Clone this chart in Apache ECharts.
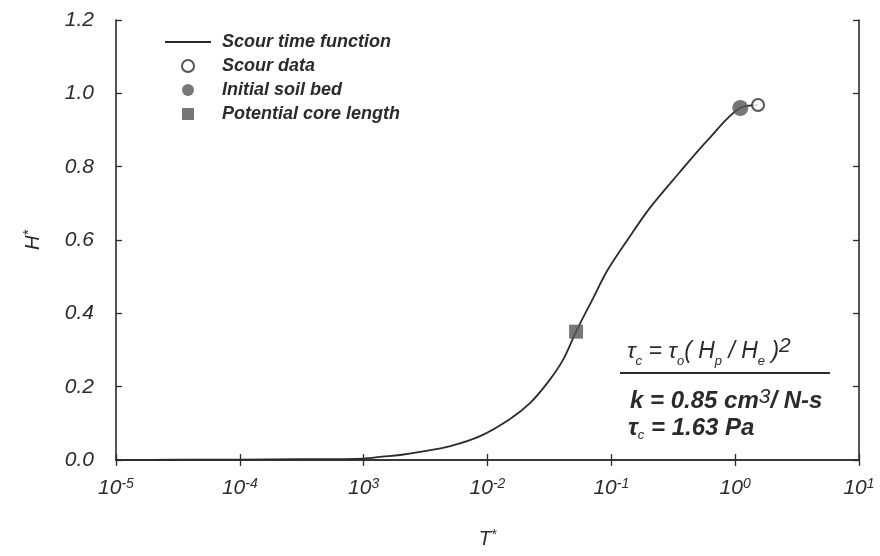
<!DOCTYPE html>
<html>
<head>
<meta charset="utf-8">
<script src="https://cdn.jsdelivr.net/npm/echarts@6/dist/echarts.min.js"></script>
<style>
  html, body { margin: 0; padding: 0; background: #ffffff; }
  #chart { width: 880px; height: 556px; }
</style>
</head>
<body>
<div id="chart"></div>
<script>
// Scour time function: log10(T*) and H* pairs
const curveLogT = [-5.0, -4.5, -4.0, -3.5, -3.0, -2.85, -2.706, -2.545, -2.30, -2.06, -1.818, -1.657, -1.51, -1.39, -1.285, -1.155, -1.03, -0.87, -0.69, -0.46, -0.22, 0.04, 0.185];
const curveH    = [0.0005, 0.0007, 0.0011, 0.002, 0.004, 0.009, 0.0136, 0.022, 0.038, 0.065, 0.112, 0.155, 0.213, 0.273, 0.35, 0.436, 0.518, 0.60, 0.687, 0.78, 0.873, 0.96, 0.968];

// Individual markers (T*, H*)
const scourDataT = [1.53];
const scourDataH = [0.968];
const initialBedT = [1.10];
const initialBedH = [0.960];
const coreLengthT = [0.0519];
const coreLengthH = [0.350];

// Axis tick labels
const xTickLabels = ['10{s|-5}', '10{s|-4}', '10{s|3}', '10{s|-2}', '10{s|-1}', '10{s|0}', '10{s|1}'];
const yMin = 0, yMax = 1.2, yStep = 0.2;

const curveData = curveLogT.map((lt, i) => [Math.pow(10, lt), curveH[i]]);
const zip = (a, b) => a.map((v, i) => [v, b[i]]);

const ink = '#2b2b2b';
const fontFam = '"Liberation Sans", Arial, sans-serif';

const chart = echarts.init(document.getElementById('chart'), null, { renderer: 'canvas' });

const baseX = {
  type: 'log', logBase: 10, min: 1e-5, max: 10,
  axisLine: { show: true, lineStyle: { color: ink, width: 1.6 } },
  axisTick: { show: true, inside: true, length: 6, lineStyle: { color: ink, width: 1.3 } },
  minorTick: { show: false },
  splitLine: { show: false }
};
const baseY = {
  type: 'value', min: yMin, max: yMax, interval: yStep,
  axisLine: { show: true, lineStyle: { color: ink, width: 1.6 } },
  axisTick: { show: true, inside: true, length: 6, lineStyle: { color: ink, width: 1.3 } },
  splitLine: { show: false }
};

const lineIcon = 'path://M0 0 L46 0 L46 2 L0 2 Z';
const squareIcon = 'path://M0 0 L10 0 L10 10 L0 10 Z';

chart.setOption({
  backgroundColor: '#ffffff',
  animation: false,
  grid: { left: 116, right: 21, top: 20, bottom: 96 },
  legend: {
    orient: 'vertical', left: 160, top: 28,
    itemWidth: 46, itemHeight: 12, itemGap: 6,
    selectedMode: false,
    textStyle: { fontFamily: fontFam, fontStyle: 'italic', fontWeight: 'bold', fontSize: 18, lineHeight: 18,
      color: ink, padding: [0, 0, 0, 6] },
    data: [
      { name: 'Scour time function', icon: lineIcon, itemStyle: { color: ink } },
      { name: 'Scour data' },
      { name: 'Initial soil bed' },
      { name: 'Potential core length', icon: squareIcon, itemStyle: { color: '#555555' } }
    ]
  },
  xAxis: [
    Object.assign({}, baseX, {
      position: 'bottom',
      axisLabel: {
        show: true, margin: 17, color: ink,
        fontFamily: fontFam, fontStyle: 'italic', fontSize: 21,
        formatter: v => xTickLabels[Math.round(Math.log10(v)) + 5],
        rich: { s: { fontFamily: fontFam, fontStyle: 'italic', fontSize: 14, verticalAlign: 'top', padding: [0, 0, 9, 0] } }
      },
      name: 'T{s|*}', nameLocation: 'middle', nameGap: 68,
      nameTextStyle: { fontFamily: fontFam, fontStyle: 'italic', fontSize: 20, color: ink,
        rich: { s: { fontFamily: fontFam, fontSize: 14, verticalAlign: 'top', padding: [0, 0, 8, 0] } } }
    }),
    Object.assign({}, baseX, { position: 'top', axisLabel: { show: false } })
  ],
  yAxis: [
    Object.assign({}, baseY, {
      position: 'left',
      axisLabel: {
        show: true, margin: 22, color: ink,
        fontFamily: fontFam, fontStyle: 'italic', fontSize: 21,
        formatter: v => v.toFixed(1)
      },
      name: 'H{s|*}', nameLocation: 'middle', nameGap: 72, nameRotate: 90,
      nameTextStyle: { fontFamily: fontFam, fontStyle: 'italic', fontSize: 20, color: ink,
        rich: { s: { fontFamily: fontFam, fontSize: 14, verticalAlign: 'top', padding: [0, 0, 8, 0] } } }
    }),
    Object.assign({}, baseY, { position: 'right', axisLabel: { show: false } })
  ],
  series: [
    {
      name: 'Scour time function', type: 'line', xAxisIndex: 0, yAxisIndex: 0,
      data: curveData, smooth: 0.35, symbol: 'none', showSymbol: false,
      lineStyle: { color: ink, width: 1.8 }, itemStyle: { color: ink }, z: 2
    },
    {
      name: 'Scour data', type: 'scatter', data: zip(scourDataT, scourDataH),
      symbol: 'circle', symbolSize: 12,
      itemStyle: { color: '#ffffff', borderColor: ink, borderWidth: 2 }, z: 4
    },
    {
      name: 'Initial soil bed', type: 'scatter', data: zip(initialBedT, initialBedH),
      symbol: 'circle', symbolSize: 16,
      itemStyle: { color: '#555555' }, z: 5
    },
    {
      name: 'Potential core length', type: 'scatter', data: zip(coreLengthT, coreLengthH),
      symbol: 'rect', symbolSize: 14,
      itemStyle: { color: '#555555' }, z: 5
    }
  ],
  graphic: [
    {
      type: 'text', left: 627, top: 336,
      style: {
        text: '{t|τ}{b|c}{t| = τ}{b|o}{t|( H}{b|p}{t| / H}{b|e}{t| )}{u|2}',
        rich: {
          t: { fontFamily: fontFam, fontStyle: 'italic', fontSize: 23, fill: ink, lineHeight: 32, verticalAlign: 'middle' },
          b: { fontFamily: fontFam, fontStyle: 'italic', fontSize: 13, fill: ink, lineHeight: 32, verticalAlign: 'bottom' },
          u: { fontFamily: fontFam, fontStyle: 'italic', fontSize: 21, fill: ink, lineHeight: 32, verticalAlign: 'top' }
        }
      }
    },
    {
      type: 'line', shape: { x1: 620, y1: 373, x2: 830, y2: 373 },
      style: { stroke: ink, lineWidth: 2 }
    },
    {
      type: 'text', left: 630, top: 387,
      style: {
        text: '{t|k = 0.85 cm}{u|3}{t|/ N-s}',
        rich: {
          t: { fontFamily: fontFam, fontStyle: 'italic', fontWeight: 'bold', fontSize: 24, fill: ink, lineHeight: 28, verticalAlign: 'middle' },
          u: { fontFamily: fontFam, fontStyle: 'italic', fontSize: 21, fill: ink, lineHeight: 28, verticalAlign: 'top' }
        }
      }
    },
    {
      type: 'text', left: 628, top: 416,
      style: {
        text: '{t|τ}{b|c}{t| = 1.63 Pa}',
        rich: {
          t: { fontFamily: fontFam, fontStyle: 'italic', fontWeight: 'bold', fontSize: 24, fill: ink, lineHeight: 28, verticalAlign: 'middle' },
          b: { fontFamily: fontFam, fontStyle: 'italic', fontSize: 13, fill: ink, lineHeight: 28, verticalAlign: 'bottom' }
        }
      }
    }
  ]
});
</script>
</body>
</html>
